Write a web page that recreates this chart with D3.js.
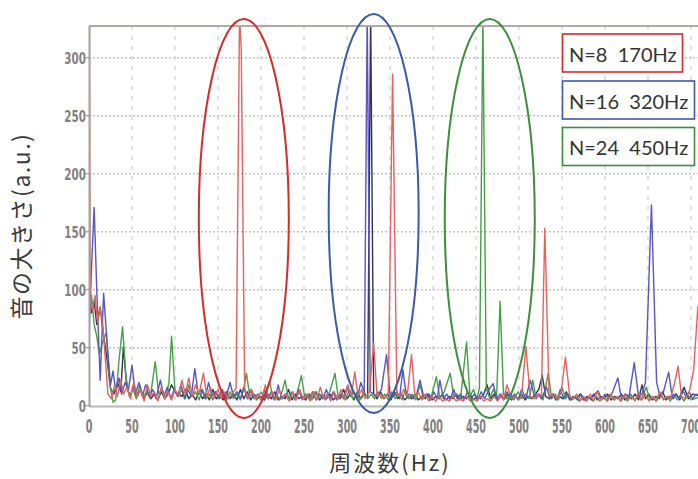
<!DOCTYPE html>
<html><head><meta charset="utf-8">
<script src="https://cdnjs.cloudflare.com/ajax/libs/d3/7.8.5/d3.min.js"></script>
<style>
html,body{margin:0;padding:0;background:#fff;}
svg{display:block;}
</style></head>
<body>
<svg id="chart" width="698" height="479"></svg>
<script>
// ---------- data ----------
const xTicks = [0,50,100,150,200,250,300,350,400,450,500,550,600,650,700];
const yTicks = [0,50,100,150,200,250,300];
const legendLabels = ["N=8  170Hz","N=16  320Hz","N=24  450Hz"];
const xTitle = "周波数(Hz)";
const yTitle = "音の大きさ(a.u.)";
// highlighted frequency regions (Hz) for ellipses: [centreHz]
const circledHz = [180, 331, 466];

// spectra: [frequency Hz, magnitude]
const redN8 = [[0,400],[1.5,100],[4,82],[7,95],[10,72],[13,85],[16,70],[19,40],[22,10],[26,6],[30,18],[33,8],[37,22],[40,10],[44,16],[48,6],[52,20],[56,8],[60,14],[64,4],[68,18],[72,8],[76,12],[80,4],[84,16],[88,6],[92,12],[96,5],[100,14],[104,8],[108,22],[112,10],[116,24],[120,8],[124,18],[128,10],[133,28],[137,8],[141,16],[145,6],[150,14],[154,6],[158,12],[162,6],[166,10],[171,15],[175,335],[177,309],[181,15],[185,6],[189,14],[193,6],[197,10],[201,4],[205,18],[209,6],[213,12],[217,5],[221,14],[225,6],[229,10],[233,4],[237,12],[241,5],[245,14],[249,6],[253,10],[257,4],[261,12],[265,5],[269,16],[273,6],[277,10],[281,4],[285,12],[289,6],[293,14],[297,6],[301,18],[305,8],[309,29],[313,8],[317,14],[321,6],[326,12],[331,54],[335,8],[339,10],[343,6],[348,10],[353,286],[358,10],[362,8],[366,14],[370,8],[375,44],[379,8],[383,12],[387,5],[391,10],[395,4],[399,8],[403,4],[407,8],[411,4],[415,6],[419,4],[423,8],[427,4],[431,6],[435,4],[439,8],[443,4],[447,6],[451,4],[455,8],[459,4],[463,6],[467,4],[471,8],[475,4],[480,10],[482,5],[486,18],[491,6],[496,8],[500,5],[503,8],[508,51],[513,8],[518,6],[522,10],[526,8],[530,153],[535,8],[540,10],[544,6],[549,12],[554,42],[559,8],[563,6],[567,10],[571,4],[575,8],[579,4],[583,10],[587,4],[591,12],[595,5],[599,8],[603,4],[607,10],[611,5],[615,8],[619,4],[623,10],[627,5],[631,8],[635,4],[639,12],[643,5],[647,10],[651,4],[655,8],[659,4],[664,12],[668,6],[672,8],[676,6],[681,20],[685,34],[689,8],[694,6],[698,12],[703,30],[708,85],[712,90]];

const blueN16 = [[0,60],[3,120],[6,171],[9,100],[13,22],[17,97],[21,55],[25,18],[28,30],[31,12],[35,24],[38,10],[42,20],[46,14],[50,35],[54,10],[58,20],[62,8],[66,18],[70,8],[74,14],[78,6],[83,22],[87,8],[91,16],[95,6],[99,14],[103,8],[107,18],[111,6],[115,14],[119,8],[123,32],[127,10],[131,14],[135,6],[139,20],[143,8],[147,12],[151,6],[155,14],[159,6],[164,20],[168,8],[172,12],[176,6],[180,16],[184,6],[188,14],[192,6],[196,10],[200,5],[204,14],[208,6],[212,12],[216,5],[220,18],[224,6],[228,10],[232,5],[236,12],[240,6],[244,14],[248,5],[252,10],[256,6],[260,12],[264,5],[268,10],[272,6],[276,14],[280,6],[284,12],[288,5],[292,10],[296,6],[300,16],[304,8],[308,12],[312,6],[316,20],[320,12],[323.5,340],[327,12],[331,10],[335,8],[340,14],[346,44],[350,10],[354,8],[358,12],[361,6],[365,31],[369,8],[373,10],[377,6],[381,10],[385,22],[389,8],[393,10],[397,5],[401,12],[405,6],[408,22],[412,6],[416,10],[420,5],[424,14],[428,6],[432,10],[436,5],[440,12],[444,6],[448,10],[452,5],[456,12],[460,6],[465,14],[470,19],[474,6],[478,10],[482,5],[486,12],[490,6],[495,10],[499,5],[503,14],[508,6],[513,22],[518,8],[522,10],[526,6],[532,16],[536,6],[540,10],[544,5],[548,14],[552,6],[556,10],[560,5],[564,8],[568,5],[572,10],[576,5],[580,8],[584,5],[588,10],[592,13],[596,5],[600,10],[604,6],[609,12],[615,24],[619,6],[624,10],[628,8],[634,37],[639,8],[643,10],[647,20],[654,173],[660,20],[664,8],[668,12],[674,29],[678,8],[682,10],[686,6],[690,14],[694,8],[698,12],[702,6],[706,10],[712,8]];

const greenN24 = [[0,80],[3,95],[6,70],[9,60],[12,45],[16,55],[20,63],[24,20],[28,3],[31,5],[35,40],[39,68],[43,25],[47,8],[51,15],[55,6],[59,18],[63,8],[67,12],[71,6],[77,38],[81,10],[85,14],[89,6],[93,20],[96,60],[100,12],[104,8],[108,14],[112,6],[116,18],[120,8],[124,12],[128,5],[132,14],[136,6],[140,10],[144,5],[148,12],[152,6],[156,10],[160,5],[164,12],[168,6],[172,10],[176,5],[180,14],[183,28],[187,8],[191,10],[195,5],[200,12],[204,6],[210,21],[214,6],[218,10],[222,5],[228,22],[232,6],[236,8],[240,5],[247,26],[251,6],[255,10],[259,5],[263,12],[267,6],[271,10],[275,5],[280,12],[286,28],[290,6],[294,10],[298,5],[303,14],[307,6],[311,10],[315,5],[320,12],[324,6],[328,10],[332,6],[336,12],[340,6],[344,10],[348,5],[352,12],[356,6],[360,10],[364,5],[368,14],[372,6],[376,10],[380,5],[385,18],[389,6],[393,10],[397,5],[404,25],[408,6],[413,12],[420,28],[424,8],[428,10],[432,6],[439,55],[443,8],[447,14],[451,6],[454,15],[458,335],[462,15],[466,6],[470,14],[474,8],[478,90],[482,10],[486,6],[490,10],[494,5],[499,12],[503,6],[508,10],[512,6],[516,22],[520,6],[524,10],[528,5],[534,28],[538,6],[542,10],[546,5],[550,16],[554,6],[558,10],[562,5],[566,8],[570,4],[574,8],[578,4],[582,8],[586,4],[590,8],[594,4],[598,8],[602,4],[606,10],[610,5],[614,8],[618,4],[622,8],[626,4],[630,10],[634,5],[638,8],[642,5],[648,16],[652,5],[656,8],[660,4],[664,10],[668,5],[672,8],[676,4],[680,10],[684,5],[688,8],[692,4],[696,10],[700,5],[712,8]];

const darkRef = [[0,95],[3,80],[6,90],[9,70],[13,85],[17,60],[21,40],[25,15],[29,10],[33,20],[37,12],[40,51],[44,15],[48,8],[52,18],[56,8],[60,14],[64,6],[68,12],[72,6],[76,10],[80,5],[84,12],[88,6],[92,10],[96,18],[100,12],[104,10],[108,8],[112,14],[116,6],[120,10],[124,5],[128,12],[132,6],[136,10],[140,5],[144,14],[148,6],[152,10],[156,5],[160,12],[164,6],[168,10],[172,5],[176,14],[180,6],[184,12],[188,5],[192,10],[196,6],[200,8],[204,5],[208,10],[212,6],[216,12],[220,5],[224,8],[228,6],[232,14],[236,5],[240,10],[244,6],[248,8],[252,5],[256,10],[260,6],[264,12],[268,5],[272,8],[276,6],[280,10],[284,5],[288,8],[292,6],[296,14],[300,6],[304,10],[308,5],[312,12],[316,6],[320,10],[324,8],[327.5,340],[331,10],[335,6],[339,12],[343,6],[347,10],[351,5],[355,12],[359,6],[363,10],[367,5],[371,8],[375,6],[379,10],[383,5],[387,8],[391,6],[395,10],[399,5],[403,8],[407,6],[411,10],[415,5],[419,8],[423,6],[427,10],[431,5],[435,8],[439,6],[443,10],[447,5],[451,8],[455,6],[459,10],[463,18],[467,6],[471,10],[475,5],[479,8],[483,6],[487,10],[491,5],[495,8],[499,6],[503,10],[507,5],[511,8],[515,6],[519,10],[523,14],[527,26],[531,8],[535,6],[539,10],[543,5],[547,8],[551,6],[555,12],[559,5],[563,8],[567,6],[571,10],[575,5],[579,8],[583,6],[587,10],[591,5],[595,8],[599,6],[603,10],[607,5],[611,8],[615,6],[619,10],[623,5],[627,8],[631,6],[635,10],[639,5],[643,18],[647,6],[651,10],[655,5],[659,8],[663,6],[667,12],[671,5],[675,8],[679,6],[683,10],[687,5],[692,16],[697,6],[702,10],[712,8]];

// ---------- layout ----------
const W = 698, H = 479;
const svg = d3.select("#chart");
const x = d3.scaleLinear().domain([0, 700]).range([89, 691]);
const y = d3.scaleLinear().domain([0, 300]).range([405.7, 57.7]);
const plotTop = 26, plotBottom = 406, plotLeft = 89, plotRight = 698;

svg.append("rect").attr("width", W).attr("height", H).attr("fill", "#fff");

// grid
const grid = svg.append("g");
grid.selectAll("line.h").data(yTicks.filter(d => d > 0)).enter().append("line")
  .attr("x1", plotLeft).attr("x2", plotRight)
  .attr("y1", d => y(d)).attr("y2", d => y(d))
  .attr("stroke", "#c4c4c4").attr("stroke-width", 1.4).attr("stroke-dasharray", "2,2");
grid.selectAll("line.v").data(xTicks.filter(d => d > 0)).enter().append("line")
  .attr("x1", d => x(d)).attr("x2", d => x(d))
  .attr("y1", plotTop).attr("y2", plotBottom)
  .attr("stroke", "#cfcfcf").attr("stroke-width", 1.2).attr("stroke-dasharray", "4,6");

// clip
svg.append("clipPath").attr("id", "clip").append("rect")
  .attr("x", plotLeft).attr("y", plotTop).attr("width", plotRight - plotLeft).attr("height", plotBottom - plotTop);

const line = d3.line().x(d => x(d[0])).y(d => y(d[1]));
const series = [
  {data: darkRef, color: "#34344e"},
  {data: greenN24, color: "#46a046"},
  {data: blueN16, color: "#5656c4"},
  {data: redN8, color: "#e2645c"}
];
const lines = svg.append("g").attr("clip-path", "url(#clip)");
lines.selectAll("path").data(series).enter().append("path")
  .attr("d", d => line(d.data))
  .attr("fill", "none").attr("stroke", d => d.color)
  .attr("stroke-width", 1.4).attr("stroke-linejoin", "round");

// frame lines
svg.append("line").attr("x1", plotLeft).attr("x2", plotRight).attr("y1", plotTop).attr("y2", plotTop)
  .attr("stroke", "#b3aaa6").attr("stroke-width", 2);
svg.append("line").attr("x1", plotLeft).attr("x2", plotRight).attr("y1", 406.5).attr("y2", 406.5)
  .attr("stroke", "#b8b8b8").attr("stroke-width", 2);
svg.append("line").attr("x1", 89.5).attr("x2", 89.5).attr("y1", plotTop).attr("y2", 407)
  .attr("stroke", "#a8a09c").attr("stroke-width", 2);

// y ticks and labels
const tickFont = "'Liberation Sans Narrow','DejaVu Sans Condensed','Liberation Sans',sans-serif";
svg.selectAll("line.yt").data(yTicks).enter().append("line")
  .attr("x1", 86).attr("x2", 90).attr("y1", d => y(d)).attr("y2", d => y(d))
  .attr("stroke", "#999").attr("stroke-width", 1.2);
svg.selectAll("text.yl").data(yTicks).enter().append("text")
  .attr("transform", d => `translate(86,${y(d) + 6}) scale(0.72,1)`)
  .attr("text-anchor", "end").attr("font-family", tickFont).attr("font-size", 16)
  .attr("font-weight", "bold").attr("fill", "#808080").text(d => d);
svg.selectAll("text.xl").data(xTicks).enter().append("text")
  .attr("transform", d => `translate(${x(d)},432.5) scale(0.56,1)`)
  .attr("text-anchor", "middle").attr("font-family", tickFont).attr("font-size", 19)
  .attr("font-weight", "bold").attr("fill", "#808080").text(d => d);

// axis titles
svg.append("text").attr("transform", "translate(30,226) rotate(-90)")
  .attr("text-anchor", "middle").attr("font-family", "'Noto Sans CJK JP',sans-serif")
  .attr("font-size", 23).attr("fill", "#3a3a3a").style("letter-spacing", "1.5px")
  .text(yTitle);
svg.append("text").attr("x", 390).attr("y", 471)
  .attr("text-anchor", "middle").attr("font-family", "'Noto Sans CJK JP',sans-serif")
  .attr("font-size", 22).attr("fill", "#3a3a3a").style("letter-spacing", "2px")
  .text(xTitle);

// ellipses highlighting peaks
const ellColors = ["#d42b2b", "#3b5aa8", "#3e8e3e"];
const ellCy = [218.5, 213.5, 218.5];
const ellRy = [199.5, 199.5, 199.5];
svg.selectAll("ellipse").data(circledHz).enter().append("ellipse")
  .attr("cx", d => x(d)).attr("cy", (d, i) => ellCy[i])
  .attr("rx", 45).attr("ry", (d, i) => ellRy[i])
  .attr("fill", "none").attr("stroke", (d, i) => ellColors[i]).attr("stroke-width", 2);

// legend
const legY = [34, 81, 127.5];
const legW = [120, 132, 132];
const leg = svg.selectAll("g.leg").data(legendLabels).enter().append("g");
leg.append("rect").attr("x", 562.5).attr("y", (d, i) => legY[i])
  .attr("width", (d, i) => legW[i]).attr("height", 38)
  .attr("fill", "#fff").attr("stroke", (d, i) => ellColors[i]).attr("stroke-width", 1.6);
leg.append("text").attr("x", 569).attr("y", (d, i) => legY[i] + 27.5)
  .attr("font-family", "Lato,'Open Sans',sans-serif").attr("font-size", 20)
  .attr("fill", "#333").style("white-space", "pre").text(d => d);
</script>
</body></html>
